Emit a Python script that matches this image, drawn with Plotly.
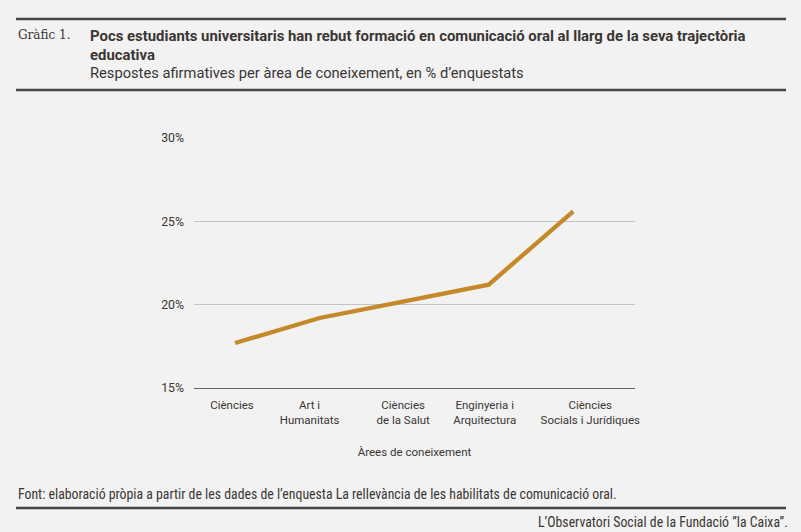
"""Line chart: formació en comunicació oral per àrea de coneixement."""

import plotly.graph_objects as go

W, H = 801, 532

areas = ['Ciències', 'Art i<br>Humanitats', 'Ciències<br>de la Salut',
         'Enginyeria i<br>Arquitectura', 'Ciències<br>Socials i Jurídiques']
pct_si = [17.7, 19.2, 20.2, 21.2, 25.6]

y_ticks = [15, 20, 25, 30]
y_tick_labels = ['15%', '20%', '25%', '30%']

# the source nudges some category labels sideways (in pixels)
label_nudge_px = [-3, -10, -1, -4, 17]

ink = '#3b3633'
rule = '#4a4542'
narrow = 'Liberation Sans Narrow, Roboto Condensed, Arial Narrow'

x_left, x_right = 194, 635
x_range = [-0.485, 4.73]
px_per_cat = (x_right - x_left) / (x_range[1] - x_range[0])


def py(px_from_top):
    """Pixel row (from top) to paper y."""
    return 1 - px_from_top / H


def px(px_from_left):
    return px_from_left / W


fig = go.Figure()
fig.add_trace(go.Scatter(x=list(range(len(areas))), y=pct_si, mode='lines',
                         line=dict(color='#c5892a', width=4.3),
                         hoverinfo='skip', showlegend=False))

tick_pos = [i + n / px_per_cat for i, n in enumerate(label_nudge_px)]

fig.update_layout(
    width=W, height=H, autosize=False,
    paper_bgcolor='#f2f2f2', plot_bgcolor='#f2f2f2',
    margin=dict(l=0, r=0, t=0, b=0, autoexpand=False),
    font=dict(family='Roboto, Arial', color=ink, size=12),
    xaxis=dict(domain=[px(x_left), px(x_right)], range=x_range, automargin=False,
               tickmode='array', tickvals=tick_pos, ticktext=areas,
               tickangle=0, ticklabelstandoff=6,
               showgrid=False, showline=True, linecolor='#6b6663', linewidth=1.2,
               ticks='', tickfont=dict(size=11.5, color=ink), zeroline=False,
               title=dict(text='Àrees de coneixement', font=dict(size=11.5, color=ink),
                          standoff=22)),
    yaxis=dict(domain=[py(388), py(138)], range=[15, 30], automargin=False,
               tickmode='array', tickvals=y_ticks, ticktext=y_tick_labels,
               showgrid=True, gridcolor='#c4c4c4', gridwidth=1, zeroline=False,
               ticks='', ticklabelstandoff=9, tickfont=dict(size=12.3, color=ink)),
)

# horizontal rules of the header and footer
for y in [19, 90, 508]:
    fig.add_shape(type='line', xref='paper', yref='paper',
                  x0=px(16), x1=px(786), y0=py(y), y1=py(y),
                  line=dict(color=rule, width=2.5))

fig.add_annotation(text='Gràfic 1.', xref='paper', yref='paper', x=px(16), y=py(35),
                   xanchor='left', yanchor='middle', showarrow=False,
                   font=dict(family='DejaVu Serif, serif', size=12, color=ink))
fig.add_annotation(text='<b>Pocs estudiants universitaris han rebut formació en comunicació oral '
                        'al llarg de la seva trajectòria<br>educativa</b>',
                   xref='paper', yref='paper', x=px(88), y=py(25), align='left',
                   xanchor='left', yanchor='top', showarrow=False,
                   font=dict(family='Roboto, Arial', size=14.9, color=ink))
fig.add_annotation(text='Respostes afirmatives per àrea de coneixement, en % d’enquestats',
                   xref='paper', yref='paper', x=px(88), y=py(73),
                   xanchor='left', yanchor='middle', showarrow=False,
                   font=dict(family='Roboto, Arial', size=14.7, color=ink))
fig.add_annotation(text='Font: elaboració pròpia a partir de les dades de l’enquesta La rellevància '
                        'de les habilitats de comunicació oral.',
                   xref='paper', yref='paper', x=px(16), y=py(494),
                   xanchor='left', yanchor='middle', showarrow=False,
                   font=dict(family=narrow, size=13.8, color=ink))
fig.add_annotation(text='L’Observatori Social de la Fundació ”la Caixa”.',
                   xref='paper', yref='paper', x=px(790), y=py(522),
                   xanchor='right', yanchor='middle', showarrow=False,
                   font=dict(family=narrow, size=13.8, color=ink))

# make the page exactly the size of the figure
page_css = """
for (const el of [document.documentElement, document.body]) {
    el.style.margin = '0'; el.style.padding = '0';
    el.style.height = '532px'; el.style.overflow = 'hidden';
}
for (const d of document.querySelectorAll('body > div')) { d.style.margin = '0'; }
"""

fig.write_html('out.html',
               config={'responsive': False, 'displayModeBar': False},
               post_script=page_css)
